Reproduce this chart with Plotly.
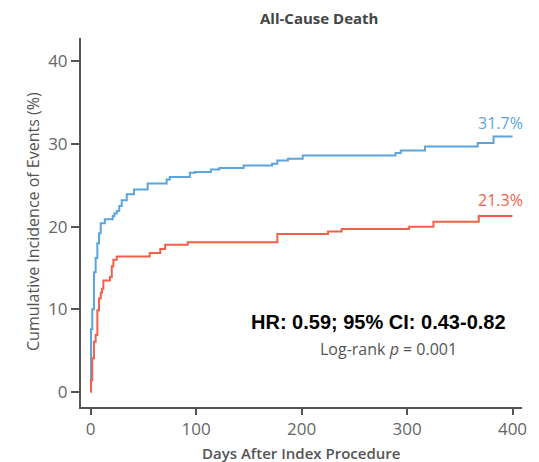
import plotly.graph_objects as go

# Data (days, cumulative incidence %)
blue_days = [0, 0.3, 1.5, 3.1, 4.7, 6.3, 7.9, 9.5, 13.4, 20.9, 22.4, 24.7, 27.1, 29.4, 34.2,
             41, 54, 72, 75, 94, 99, 114, 122, 145, 172, 177, 187, 201, 289, 294, 317, 367, 382, 400]
blue_vals = [1.4, 7.6, 10.0, 14.5, 16.2, 18.0, 19.2, 20.4, 20.9, 21.3, 21.6, 21.9, 22.5, 23.2, 23.9,
             24.5, 25.2, 25.7, 26.0, 26.5, 26.6, 26.9, 27.1, 27.4, 27.6, 28.0, 28.2, 28.6, 28.9, 29.2, 29.7, 30.1, 30.9, 30.9]

red_days = [0, 0.3, 1.5, 3.1, 4.7, 6.3, 7.9, 9.5, 10.7, 12, 18.3, 20, 21.5, 24.7, 56, 66, 70.6, 92,
            177, 225, 238, 302, 325, 368, 400]
red_vals = [0, 1.4, 4.1, 6.1, 6.9, 9.9, 11.3, 12.0, 12.5, 13.5, 13.9, 15.2, 16.0, 16.4, 16.8, 17.3, 17.8, 18.1,
            19.1, 19.4, 19.7, 20.0, 20.6, 21.3, 21.3]

x_ticks = [0, 100, 200, 300, 400]
y_ticks = [0, 10, 20, 30, 40]
blue_label = "31.7%"
red_label = "21.3%"

BLUE = "#5BA4DC"
RED = "#F2604B"
GRAY = "#555555"
FONT = "Open Sans, sans-serif"

fig = go.Figure()
fig.add_trace(go.Scatter(x=blue_days, y=blue_vals, mode="lines", line=dict(color=BLUE, width=2, shape="hv"),
                         showlegend=False, hoverinfo="skip"))
fig.add_trace(go.Scatter(x=red_days, y=red_vals, mode="lines", line=dict(color=RED, width=2, shape="hv"),
                         showlegend=False, hoverinfo="skip"))

fig.update_layout(
    width=539, height=462,
    margin=dict(l=81, r=17, t=38, b=55),
    plot_bgcolor="white", paper_bgcolor="white",
    font=dict(family=FONT, color=GRAY),
    xaxis=dict(range=[-9.2, 409], tickvals=x_ticks, ticks="outside", ticklen=6, tickwidth=2,
               tickcolor=GRAY, showline=True, linecolor=GRAY, linewidth=2, showgrid=False,
               zeroline=False, tickfont=dict(size=17, color="#666666", family=FONT)),
    yaxis=dict(range=[-1.8, 42.8], tickvals=y_ticks, ticks="outside", ticklen=8, tickwidth=2,
               tickcolor=GRAY, showline=True, linecolor=GRAY, linewidth=2, showgrid=False,
               zeroline=False, tickfont=dict(size=17, color="#666666", family=FONT)),
)

ann = [
    dict(text="All-Cause Death", x=319, y=18, font=dict(size=15, color="#444444", family=FONT, weight="bold")),
    dict(text="Cumulative Incidence of Events (%)", x=33, y=222, textangle=-90,
         font=dict(size=16, color="#555555", family=FONT)),
    dict(text="Days After Index Procedure", x=301, y=453,
         font=dict(size=15, color="#555555", family=FONT, weight=600)),
    dict(text="HR: 0.59; 95% CI: 0.43-0.82", x=378.5, y=322,
         font=dict(size=20, color="black", family="Liberation Sans, Arial, sans-serif", weight="bold")),
    dict(text="Log-rank <i>p</i> = 0.001", x=388, y=349, font=dict(size=16, color="#555555", family=FONT)),
    dict(text=blue_label, x=500, y=123, font=dict(size=16, color=BLUE, family=FONT)),
    dict(text=red_label, x=500, y=200, font=dict(size=16, color=RED, family=FONT)),
]
for a in ann:
    fig.add_annotation(text=a["text"], xref="paper", yref="paper",
                       x=(a["x"] - 81) / (539 - 81 - 17), y=1 - (a["y"] - 38) / (462 - 38 - 55),
                       xanchor="center", yanchor="middle", showarrow=False,
                       textangle=a.get("textangle", 0), font=a["font"])

fig.write_html("out.html")
